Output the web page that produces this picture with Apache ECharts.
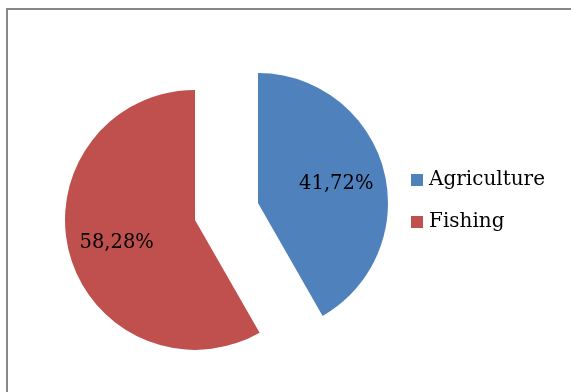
<!DOCTYPE html>
<html>
<head>
<meta charset="utf-8">
<script src="https://cdn.jsdelivr.net/npm/echarts@6/dist/echarts.min.js"></script>
<style>
  html, body { margin: 0; padding: 0; background: #fff; }
  #chart { width: 571px; height: 392px; }
</style>
</head>
<body>
<div id="chart"></div>
<script>
// Share of activity by sector (percent)
const categories = ['Agriculture', 'Fishing'];
const shares = [41.72, 58.28];
const colors = ['#4F81BD', '#C0504D'];

const FONT = '"DejaVu Serif", serif';
const RADIUS = 130;
const total = shares.reduce((a, b) => a + b, 0);

// Push each label a little further out along its slice's bisector
let acc = 0;
const labelShift = shares.map(v => {
  const mid = (acc + v / 2) / total * 2 * Math.PI;
  acc += v;
  const k = RADIUS * 0.1;
  return [Math.sin(mid) * k, -Math.cos(mid) * k + 2];
});

const chart = echarts.init(document.getElementById('chart'), null, { renderer: 'canvas' });
chart.setOption({
  animation: false,
  backgroundColor: '#fff',
  graphic: [{
    type: 'rect',
    shape: { x: 7, y: 9, width: 620, height: 420 },
    style: { fill: 'none', stroke: '#888888', lineWidth: 2 },
    silent: true
  }],
  legend: {
    orient: 'vertical',
    left: 406,
    top: 165,
    icon: 'rect',
    itemWidth: 12,
    itemHeight: 12,
    itemGap: 22,
    selectedMode: false,
    textStyle: { fontFamily: FONT, fontSize: 20, color: '#000', padding: [0, 0, 0, 1] },
    data: categories
  },
  series: [{
    type: 'pie',
    center: [226.5, 211.5],
    radius: RADIUS,
    startAngle: 90,
    clockwise: true,
    selectedMode: 'multiple',
    selectedOffset: 32.6,
    avoidLabelOverlap: false,
    emphasis: { disabled: true },
    label: {
      show: true,
      position: 'inside',
      fontFamily: FONT,
      fontSize: 19.5,
      color: '#000',
      formatter: p => p.value.toFixed(2).replace('.', ',') + '%'
    },
    labelLine: { show: false },
    labelLayout: p => ({ dx: labelShift[p.dataIndex][0], dy: labelShift[p.dataIndex][1] }),
    data: categories.map((name, i) => ({
      name,
      value: shares[i],
      selected: true,
      itemStyle: { color: colors[i] }
    }))
  }]
});
</script>
</body>
</html>
